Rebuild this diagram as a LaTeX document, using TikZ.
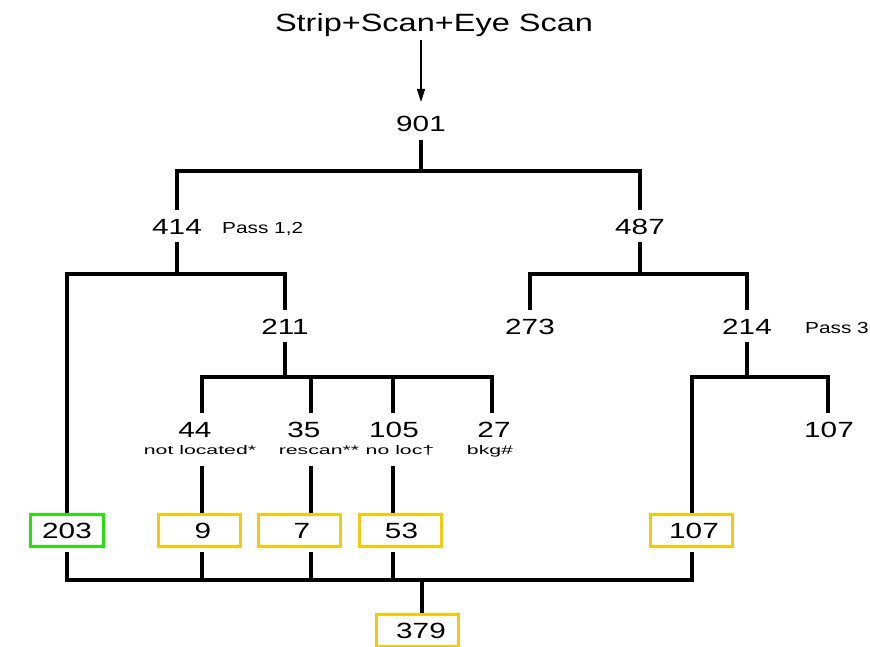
\documentclass[tikz,border=0pt]{standalone}
\usepackage{fontspec}
\setmainfont{Liberation Sans}
\newfontfamily\numfont{Liberation Sans}[FakeStretch=1.35]
\newfontfamily\titlefont{Liberation Sans}[FakeStretch=1.3]
\newfontfamily\passfont{Liberation Sans}[FakeStretch=1.3]
\newfontfamily\subfont{Liberation Sans}[FakeStretch=1.7]
\usetikzlibrary{arrows.meta}
\definecolor{boxgreen}{RGB}{40,225,10}
\definecolor{boxyellow}{RGB}{245,200,20}
\begin{document}
\begin{tikzpicture}[x=1pt,y=-1pt,
 num/.style={font=\numfont\fontsize{22}{24}\selectfont, inner sep=0pt, outer sep=8pt, text height=16pt, text depth=0pt},
 sublbl/.style={font=\subfont\fontsize{12.5}{14}\selectfont, inner sep=0pt, outer sep=9pt, text height=9pt, text depth=2pt},
 passlbl/.style={font=\passfont\fontsize{16}{18}\selectfont, inner sep=0pt},
 numbox/.style={num, draw, line width=3pt, minimum width=82pt, minimum height=32pt, outer sep=1.5pt},
 goodbox/.style={numbox, draw=boxgreen},
 cutbox/.style={numbox, draw=boxyellow},
 link/.style={line width=3.2pt},
 feed/.style={line width=1.3pt, -{Triangle[width=8pt,length=13pt]}},
]
\useasboundingbox (0,0) rectangle (870,647);

% text nodes
\node[font=\titlefont\fontsize{25}{28}\selectfont, anchor=base, inner sep=0pt] (title) at (434,32) {Strip+Scan+Eye Scan};
\node[num] (n901) at (421,124) {901};
\node[num] (n414) at (177,226) {414};
\node[passlbl, anchor=west] (p12) at (222,229) {Pass 1,2};
\node[num] (n487) at (640,226) {487};
\node[num] (n211) at (285,326) {211};
\node[num] (n273) at (530,326) {273};
\node[num] (n214) at (747,326) {214};
\node[passlbl, anchor=west] (p3) at (805,328) {Pass 3};
\node[num] (n44) at (195,429) {44};
\node[num] (n35) at (304,429) {35};
\node[num] (n105) at (394,429) {105};
\node[num] (n27) at (494,429) {27};
\node[num] (n107r) at (829,429) {107};
\node[sublbl] (l44) at (200,451) {not located*};
\node[sublbl] (l35) at (319,451) {rescan**};
\node[sublbl] (l105) at (400,451) {no loc†};
\node[sublbl] (l27) at (490,451) {bkg\#};

% boxes
\node[goodbox, minimum width=73pt] (b203) at (67,530.5) {203};
\node[cutbox] (b9) at (199,530.5) {\hspace*{8pt}9};
\node[cutbox] (b7) at (299,530.5) {\hspace*{6pt}7};
\node[cutbox] (b53) at (400,530.5) {\hspace*{3pt}53};
\node[cutbox] (b107) at (691,530.5) {\hspace*{6pt}107};
\node[cutbox] (b379) at (417,630.5) {\hspace*{8pt}379};

% junctions
\coordinate (j901) at (421,171);
\coordinate (j414) at (177,274);
\coordinate (j487) at (640,274);
\coordinate (j211) at (285,377);
\coordinate (j214) at (747,377);
\coordinate (c44) at (202,377);
\coordinate (c35) at (311,377);
\coordinate (c105) at (393,377);
\coordinate (c27) at (492,377);
\coordinate (c214l) at (692,377);
\coordinate (c107r) at (828,377);
\coordinate (jbot) at (422,580);
\coordinate (br) at (692,580);

% connectors
\draw[feed, shorten <=3pt, shorten >=6pt] (title.south -| n901.north) -- (n901.north);
\draw[link] (n901) -- (j901);
\draw[link] (n414) |- (j901) -| (n487);
\draw[link] (n414) -- (j414);
\draw[link] (b203) |- (j414) -| (n211);
\draw[link] (n487) -- (j487);
\draw[link] (n273) |- (j487) -| (n214);
\draw[link] (n211) -- (j211);
\draw[link] (n44.north -| c44) -- (c44) -- (c27) -- (n27.north -| c27);
\draw[link] (c35) -- (n35.north -| c35);
\draw[link] (c105) -- (n105.north -| c105);
\draw[link] (n214) -- (j214);
\draw[link] (b107.north -| c214l) -- (c214l) -- (c107r) -- (n107r.north -| c107r);
\draw[link] (l44.south -| c44) -- (b9.north -| c44);
\draw[link] (l35.south -| c35) -- (b7.north -| c35);
\draw[link] (l105.south -| c105) -- (b53.north -| c105);
\draw[link, shorten <=4pt, shorten >=4pt] (b203) |- (br) -- (b107.south -| br);
\draw[link, shorten <=4pt] (b9.south -| c44) -- (c44 |- jbot);
\draw[link, shorten <=4pt] (b7.south -| c35) -- (c35 |- jbot);
\draw[link, shorten <=4pt] (b53.south -| c105) -- (c105 |- jbot);
\draw[link] (jbot) -- (b379.north -| jbot);
\end{tikzpicture}
\end{document}
